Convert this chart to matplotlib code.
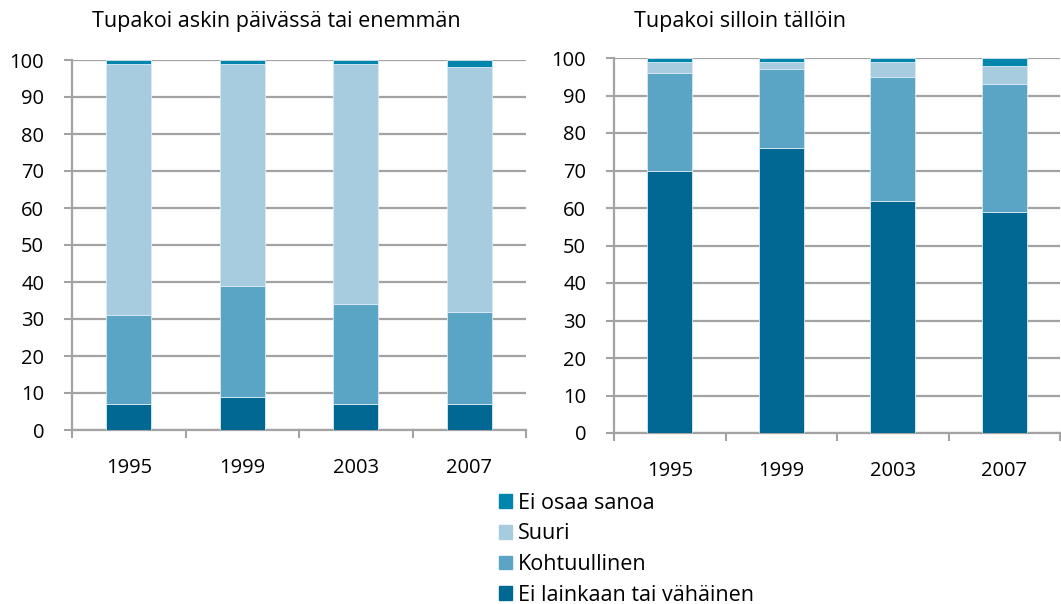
import matplotlib
matplotlib.use("Agg")
import matplotlib.pyplot as plt
from matplotlib.patches import Patch
import numpy as np

years = ["1995", "1999", "2003", "2007"]
series = ["Ei lainkaan tai vähäinen", "Kohtuullinen", "Suuri", "Ei osaa sanoa"]
colors = ["#006892", "#5aa5c6", "#a7cbdf", "#0085ad"]

# Tupakoi askin päivässä tai enemmän
daily = [
    [7, 9, 7, 7],
    [24, 30, 27, 25],
    [68, 60, 65, 66],
    [1, 1, 1, 2],
]
# Tupakoi silloin tällöin
occasional = [
    [70, 76, 62, 59],
    [26, 21, 33, 34],
    [3, 2, 4, 5],
    [1, 1, 1, 2],
]
titles = ["Tupakoi askin päivässä tai enemmän", "Tupakoi silloin tällöin"]

plt.rcParams["font.family"] = ["Open Sans", "DejaVu Sans"]
grid_c = "#a3a3a3"

fig = plt.figure(figsize=(10.61, 6.04), dpi=100)
W, H = 1061, 604
boxes = [(72, 526, 60, 430), (614, 1060, 58, 433)]

for (l, r, t, b), data, title in zip(boxes, [daily, occasional], titles):
    ax = fig.add_axes([l / W, 1 - b / H, (r - l) / W, (b - t) / H])
    x = np.arange(len(years))
    bottom = np.zeros(len(years))
    for vals, c in zip(data, colors):
        ax.bar(x, vals, 0.4, bottom=bottom, color=c, edgecolor="#dceaf2",
               linewidth=0.6, zorder=3)
        bottom += np.array(vals)
    ax.set_xlim(-0.5, len(years) - 0.5)
    ax.set_ylim(0, 100)
    ax.set_yticks(range(0, 101, 10))
    ax.yaxis.grid(True, color=grid_c, linewidth=1.6, zorder=0)
    ax.set_axisbelow(True)
    ax.set_xticks(x)
    ax.set_xticklabels(years)
    ax.set_xticks(np.arange(-0.5, len(years), 1), minor=True)
    ax.tick_params(axis="x", which="major", length=0, pad=20, labelsize=14.5)
    ax.tick_params(axis="x", which="minor", length=6, width=1.5, color=grid_c)
    ax.tick_params(axis="y", length=6, width=1.5, color=grid_c, labelsize=14.5, pad=14)
    for s in ["top", "right"]:
        ax.spines[s].set_visible(False)
    for s in ["left", "bottom"]:
        ax.spines[s].set_color(grid_c)
        ax.spines[s].set_linewidth(1.6)
    fig.text((l + 20) / W, 1 - 22 / H, title, fontsize=15.5, va="center", ha="left")

handles = [Patch(color=c, label=s) for c, s in zip(colors, series)][::-1]
fig.legend(handles=handles, loc="upper left", bbox_to_anchor=(490 / W, 1 - 484 / H),
           frameon=False, fontsize=15.5, handlelength=0.6, handleheight=0.6,
           handletextpad=0.3, labelspacing=0.45, borderaxespad=0)

fig.savefig("out.png", dpi=100)
